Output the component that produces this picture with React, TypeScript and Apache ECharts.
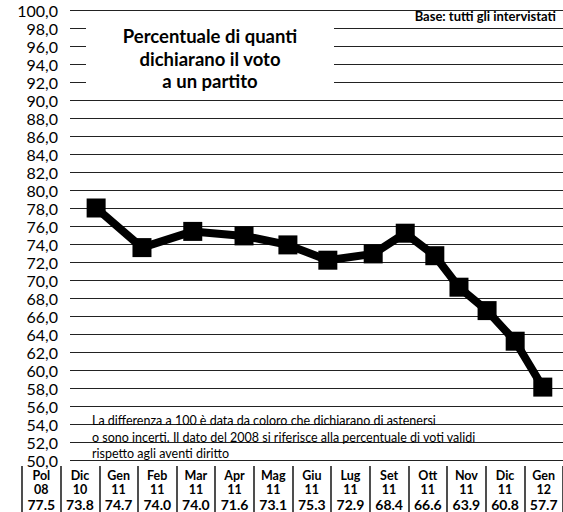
import React, { useEffect, useRef } from "react";
import * as echarts from "echarts";

// Plotted line (as drawn in the picture): horizontal position on a 0-100 track and value
const pointPos = [5.3, 14.6, 24.9, 35.3, 44.2, 52.3, 61.5, 68.0, 74.0, 78.9, 84.6, 90.3, 95.9];
const lineValues = [78.0, 73.6, 75.4, 74.9, 73.9, 72.2, 72.9, 75.2, 72.7, 69.2, 66.6, 63.2, 58.1];

// Table under the chart
const months = ["Pol", "Dic", "Gen", "Feb", "Mar", "Apr", "Mag", "Giu", "Lug", "Set", "Ott", "Nov", "Dic", "Gen"];
const years = ["08", "10", "11", "11", "11", "11", "11", "11", "11", "11", "11", "11", "11", "12"];
const tableValues = [77.5, 73.8, 74.7, 74.0, 74.0, 71.6, 73.1, 75.3, 72.9, 68.4, 66.6, 63.9, 60.8, 57.7];

const yMin = 50;
const yMax = 100;
const yStep = 2;

const titleText = "Percentuale di quanti\ndichiarano il voto\na un partito";
const baseText = "Base: tutti gli intervistati";
const noteText =
  "La differenza a 100 è data da coloro che dichiarano di astenersi\n" +
  "o sono incerti. Il dato del 2008 si riferisce alla percentuale di voti validi\n" +
  "rispetto agli aventi diritto";

export default function App() {
  const ref = useRef<HTMLDivElement>(null);

  useEffect(() => {
    document.body.style.margin = "0";
    const chart = echarts.init(ref.current!, null, { renderer: "svg" });
    const font = "Lato, 'Open Sans', sans-serif";
    chart.setOption({
      animation: false,
      backgroundColor: "#ffffff",
      grid: [
        { left: 70, right: 0, top: 10, height: 450 },
        { left: 22, width: 543, top: 456, height: 10 },
      ],
      xAxis: [
        { type: "value", gridIndex: 0, min: 0, max: 100, show: false },
        {
          type: "category",
          gridIndex: 1,
          position: "bottom",
          data: months.map((m, i) => m + " " + years[i] + " " + i),
          boundaryGap: true,
          axisLine: { show: false },
          axisTick: {
            show: true,
            interval: 0,
            length: 46,
            lineStyle: { color: "#222", width: 1.6 },
          },
          axisLabel: {
            interval: 0,
            margin: 3,
            formatter: (_v: string, i: number) =>
              `{a|${months[i]}}\n{a|${years[i]}}\n{b|${tableValues[i].toFixed(1)}}`,
            rich: {
              a: { fontFamily: font, fontWeight: "bold", fontSize: 12.5, lineHeight: 13.5, color: "#000" },
              b: { fontFamily: font, fontWeight: "bold", fontSize: 14, lineHeight: 16, color: "#000" },
            },
          },
        },
      ],
      yAxis: [
        {
          type: "value",
          gridIndex: 0,
          min: yMin,
          max: yMax,
          interval: yStep,
          axisLine: { show: false },
          axisTick: { show: false },
          splitLine: { lineStyle: { color: "#222", width: 1 } },
          axisLabel: {
            margin: 12,
            fontFamily: font,
            fontSize: 16,
            color: "#000",
            formatter: (v: number) => v.toFixed(1).replace(".", ","),
          },
        },
        { type: "value", gridIndex: 1, show: false },
      ],
      series: [
        {
          type: "line",
          xAxisIndex: 0,
          yAxisIndex: 0,
          data: pointPos.map((x, i) => [x, lineValues[i]]),
          symbol: "rect",
          symbolSize: 19,
          lineStyle: { color: "#000", width: 8, join: "round" },
          itemStyle: { color: "#000" },
          z: 5,
        },
      ],
      graphic: [
        {
          type: "rect",
          shape: { x: 86, y: 15, width: 248, height: 77 },
          style: { fill: "#ffffff" },
          z: 10,
        },
        {
          type: "text",
          x: 210,
          y: 24.75,
          z: 11,
          style: {
            text: titleText,
            textAlign: "center",
            textVerticalAlign: "top",
            fontFamily: font,
            fontWeight: "bold",
            fontSize: 18.5,
            lineHeight: 22.5,
            fill: "#000",
          },
        },
        {
          type: "text",
          x: 556,
          y: 16,
          z: 11,
          style: {
            text: baseText,
            textAlign: "right",
            textVerticalAlign: "middle",
            fontFamily: font,
            fontWeight: "bold",
            fontSize: 13,
            fill: "#000",
          },
        },
        {
          type: "text",
          x: 92,
          y: 412.5,
          z: 11,
          style: {
            text: noteText,
            textAlign: "left",
            textVerticalAlign: "top",
            fontFamily: font,
            fontSize: 12.5,
            lineHeight: 16.5,
            fill: "#000",
          },
        },
      ],
    });
    return () => chart.dispose();
  }, []);

  return <div ref={ref} style={{ width: 563, height: 512 }} />;
}
